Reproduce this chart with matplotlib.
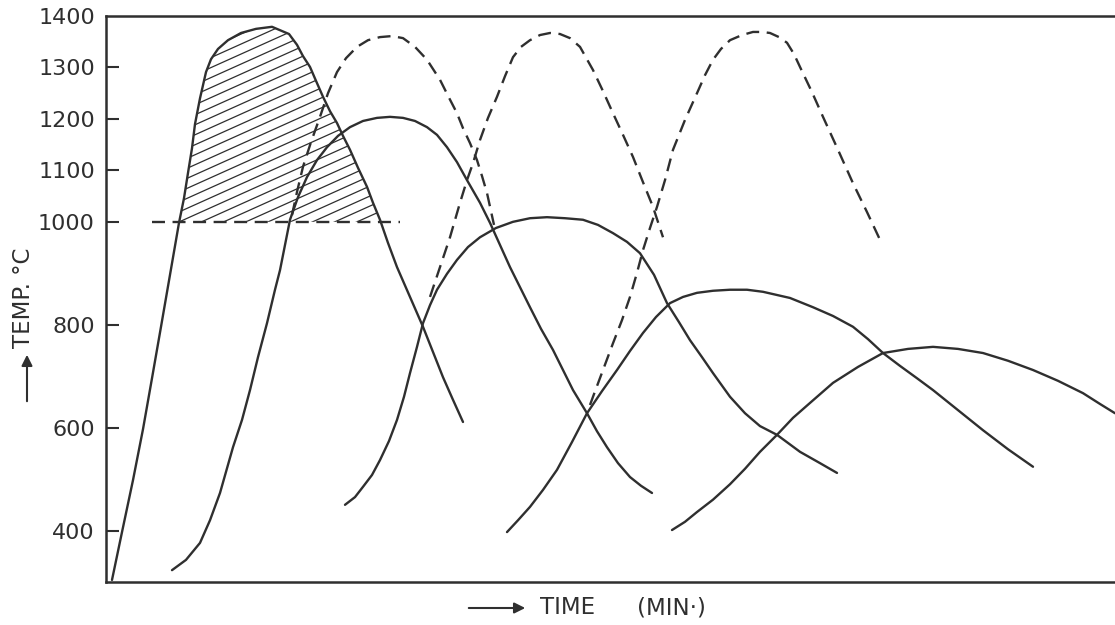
import numpy as np
import matplotlib
matplotlib.use("Agg")
import matplotlib.pyplot as plt
from matplotlib.patches import FancyArrowPatch

# time (arbitrary minutes) and temperature (deg C)
a_t = [0.6, 1.6, 2.7, 3.7, 4.6, 5.5, 6.4, 7.3, 7.8, 8.2, 8.6, 8.9, 9.4, 10.0, 10.5, 11.2,
       12.2, 13.5, 15.0, 16.6, 18.3, 19.1, 19.7, 20.4, 21.0, 21.7, 22.4, 23.1, 23.7, 24.4,
       25.2, 26.1, 26.7, 27.4, 28.2, 29.1, 30.4, 31.7, 32.7, 33.7, 34.7, 35.7]
a_temp = [304, 397, 498, 597, 696, 796, 897, 998, 1046, 1095, 1143, 1190, 1240, 1291, 1316, 1336,
          1353, 1367, 1375, 1379, 1365, 1344, 1322, 1301, 1274, 1243, 1215, 1192, 1167, 1140,
          1105, 1068, 1037, 1004, 959, 912, 854, 796, 747, 698, 654, 611]

b_t = [6.6, 8.0, 9.4, 10.4, 11.4, 12.7, 13.6, 14.4, 15.2, 16.1, 16.9, 17.4, 18.4, 19.2,
       20.1, 21.1, 22.1, 23.2, 24.4, 25.7, 27.1, 28.4, 29.7, 30.9, 32.1, 33.1, 34.1, 35.1,
       36.1, 37.4, 38.4, 39.4, 40.4, 41.4, 42.4, 43.5, 44.7, 45.7, 46.7, 48.1, 49.1, 50.1,
       51.2, 52.4, 53.5, 54.6]
b_temp = [323, 343, 376, 420, 473, 562, 615, 673, 737, 803, 868, 906, 1004, 1048,
          1087, 1120, 1145, 1167, 1184, 1196, 1202, 1204, 1202, 1196, 1184, 1169, 1145, 1116,
          1081, 1037, 998, 955, 912, 873, 834, 792, 751, 712, 673, 628, 593, 562,
          531, 504, 487, 473]

c_t = [23.9, 24.9, 25.7, 26.6, 27.4, 28.3, 29.1, 29.8, 30.4, 31.1, 31.7, 32.4, 33.1, 34.1,
       35.1, 36.2, 37.4, 39.0, 40.7, 42.4, 44.1, 45.9, 47.7, 49.2, 50.7, 52.1, 53.4, 54.8,
       56.1, 57.3, 58.4, 59.6, 60.7, 62.4, 63.9, 65.4, 67.1, 69.4, 71.4, 73.1]
c_temp = [450, 465, 485, 508, 537, 574, 615, 660, 706, 757, 803, 838, 868, 899,
          926, 951, 970, 988, 1000, 1007, 1009, 1007, 1004, 994, 978, 961, 939, 897,
          842, 805, 770, 737, 706, 660, 628, 603, 586, 553, 531, 512]

d_t = [40.1, 41.2, 42.4, 43.7, 45.1, 46.6, 48.1, 49.6, 51.1, 52.4, 53.7, 55.0, 56.4, 57.7,
       59.1, 60.7, 62.4, 64.1, 65.7, 68.4, 70.7, 72.7, 74.7, 76.2, 77.7, 79.4, 81.1, 82.7,
       85.2, 87.7, 90.2, 92.7]
d_temp = [397, 420, 446, 479, 518, 572, 628, 671, 712, 749, 784, 815, 842, 854,
          862, 866, 868, 868, 864, 852, 834, 817, 796, 772, 745, 720, 696, 673,
          634, 595, 558, 524]

e_t = [56.6, 57.9, 59.1, 60.7, 62.4, 63.9, 65.4, 67.1, 68.7, 70.4, 72.7, 75.2, 77.7, 80.2,
       82.7, 85.2, 87.7, 90.2, 92.7, 95.2, 97.7, 99.4, 100.9]
e_temp = [401, 417, 436, 460, 490, 520, 553, 586, 619, 648, 687, 718, 745, 753,
          757, 753, 745, 730, 712, 691, 667, 646, 628]

# reheating curves (dashed)
r1_t = [18.6, 19.1, 19.7, 20.5, 21.4, 22.2, 23.1, 24.0, 25.1, 26.2, 27.4, 28.6, 29.7, 30.9,
        32.1, 33.4, 34.2, 35.1, 35.7, 36.4, 37.1, 37.6, 38.1, 38.8]
r1_temp = [1013, 1058, 1107, 1155, 1204, 1250, 1291, 1318, 1340, 1353, 1359, 1361, 1357, 1340,
           1315, 1276, 1245, 1211, 1182, 1153, 1120, 1089, 1056, 994]

r2_t = [32.4, 33.4, 34.4, 35.4, 36.1, 36.7, 37.4, 38.2, 39.1, 39.9, 40.7, 41.5, 42.4, 43.4,
        44.4, 45.4, 46.4, 47.4, 48.7, 49.7, 50.7, 51.7, 52.7, 53.7, 54.7, 55.7]
r2_temp = [854, 912, 970, 1037, 1081, 1114, 1159, 1202, 1243, 1283, 1320, 1340, 1353, 1363,
           1367, 1365, 1357, 1340, 1295, 1254, 1211, 1169, 1126, 1077, 1029, 970]

r3_t = [48.4, 48.7, 49.7, 50.7, 51.6, 52.4, 53.1, 53.7, 54.4, 55.1, 55.9, 56.7, 57.9, 59.1,
        59.9, 60.7, 61.5, 62.4, 63.6, 64.7, 65.6, 66.4, 67.3, 68.1, 68.8, 69.4, 70.6, 71.7,
        73.2, 74.7, 76.1, 77.4]
r3_temp = [644, 660, 712, 764, 809, 854, 901, 945, 988, 1029, 1081, 1140, 1198, 1250,
           1285, 1315, 1336, 1353, 1363, 1369, 1369, 1367, 1359, 1348, 1326, 1301, 1252, 1204,
           1140, 1075, 1019, 965]

level_t = [4.6, 29.4]
level_temp = 1000

yticks = [400, 600, 800, 1000, 1100, 1200, 1300, 1400]

ink = "#2f2f2f"
lw = 1.7
dash = (0, (5.5, 3.2))

fig = plt.figure(figsize=(11.15, 6.25), dpi=100)
ax = fig.add_axes([106 / 1115, 43 / 625, 1009 / 1115, 566 / 625])
ax.set_xlim(0, 100.9)
ax.set_ylim(300, 1400)

for t, v in [(a_t, a_temp), (b_t, b_temp), (c_t, c_temp), (d_t, d_temp), (e_t, e_temp)]:
    ax.plot(t, v, color=ink, lw=lw, solid_capstyle="round", solid_joinstyle="round")
for t, v in [(r1_t, r1_temp), (r2_t, r2_temp), (r3_t, r3_temp)]:
    ax.plot(t, v, color=ink, lw=lw, linestyle=dash, dash_joinstyle="round")
ax.plot(level_t, [level_temp, level_temp], color=ink, lw=lw, linestyle=dash)

# hatched area of curve A above 1000 C, with shallow hatch lines
a_t_arr = np.array(a_t)
a_arr = np.array(a_temp)
fill = ax.fill_between(a_t_arr, level_temp, a_arr, where=a_arr >= level_temp,
                       interpolate=True, facecolor="none", edgecolor="none")
clip = fill.get_paths()[0]
px_x = 1009 / 100.9
px_y = 566 / 1100
slope = 0.45 * px_x / px_y
step = 10 / px_y
for c in np.arange(level_temp - slope * 30, 1400, step):
    xs = np.array([4, 30])
    hl, = ax.plot(xs, c + slope * (xs - 4), color=ink, lw=0.9)
    hl.set_clip_path(clip, ax.transData)

ax.spines["right"].set_visible(False)
for s in ["left", "bottom", "top"]:
    ax.spines[s].set_linewidth(1.8)
    ax.spines[s].set_color(ink)
ax.set_xticks([])
ax.set_yticks(yticks)
ax.set_yticklabels([str(v) for v in yticks], fontsize=16, color=ink)
ax.tick_params(axis="y", direction="in", length=9, width=1.5, color=ink, pad=8)
ax.yaxis.get_major_ticks()[-1].tick1line.set_visible(False)

# axis labels with arrows
fig.text(24 / 1115, 1 - 298 / 625, "TEMP. °C", rotation=90, ha="center", va="center",
         fontsize=16.5, color=ink)
fig.add_artist(FancyArrowPatch(
    (27 / 1115, 1 - 404 / 625), (27 / 1115, 1 - 352 / 625), transform=fig.transFigure,
    arrowstyle="-|>", mutation_scale=16, lw=1.5, color=ink))
fig.add_artist(FancyArrowPatch(
    (466 / 1115, 1 - 608 / 625), (528 / 1115, 1 - 608 / 625), transform=fig.transFigure,
    arrowstyle="-|>", mutation_scale=16, lw=1.5, color=ink))
fig.text(540 / 1115, 1 - 608 / 625, "TIME", ha="left", va="center",
         fontsize=16.5, color=ink)
fig.text(637 / 1115, 1 - 608 / 625, "(MIN·)", ha="left", va="center",
         fontsize=16.5, color=ink)

fig.savefig("out.png", dpi=100)
